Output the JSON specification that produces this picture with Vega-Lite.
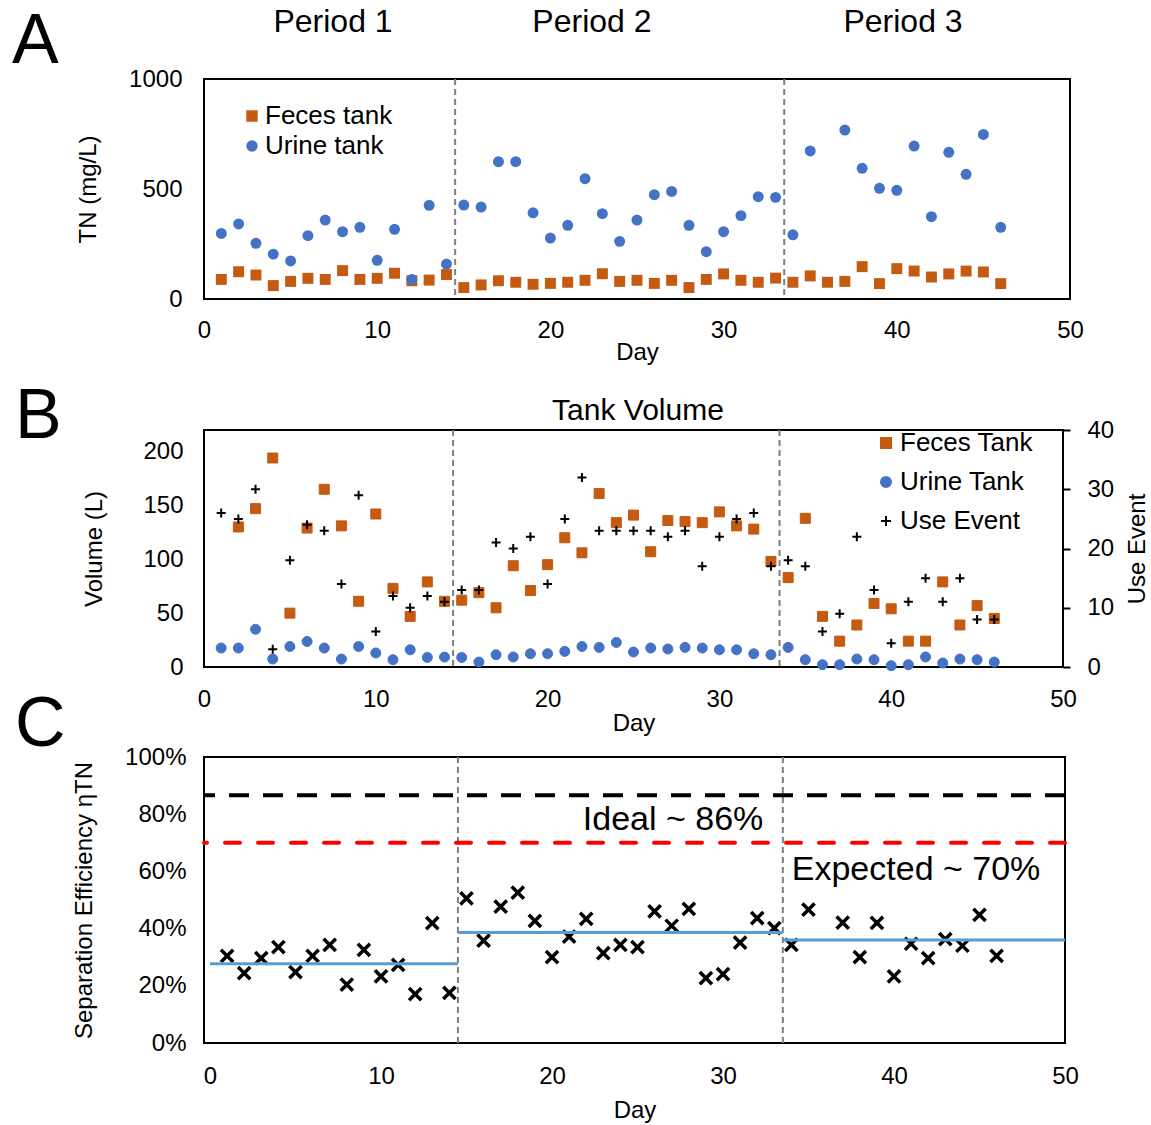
{
  "$schema": "https://vega.github.io/schema/vega-lite/v6.json",
  "autosize": {"type": "none"},
  "padding": {"left": 204, "top": 79, "right": 947, "bottom": 1046},
  "background": "white",
  "bounds": "flush",
  "spacing": 0,
  "resolve": {"scale": {"color": "independent", "shape": "independent", "fill": "independent", "stroke": "independent"}},
  "config": {
    "font": "Liberation Sans",
    "view": {"stroke": "black", "strokeWidth": 2},
    "axis": {"labelFontSize": 24, "titleFontSize": 24, "labelColor": "black", "titleColor": "black", "titleFontWeight": "normal", "grid": false, "ticks": false, "domain": false, "labelFont": "Liberation Sans", "titleFont": "Liberation Sans", "labelFlush": false, "labelOverlap": false},
    "legend": {"labelFont": "Liberation Sans", "labelColor": "black", "labelFontSize": 26, "title": null, "padding": 0},
    "title": {"fontSize": 70, "fontWeight": "normal", "color": "black", "anchor": "start", "frame": "group", "font": "Liberation Sans"},
    "text": {"font": "Liberation Sans", "color": "black"}
  },
  "datasets": {
    "periods": [{"day": 14.5}, {"day": 33.5}],
    "tnA": [
      {"day":1,"series":"Feces tank","tn":89},{"day":2,"series":"Feces tank","tn":124},{"day":3,"series":"Feces tank","tn":109},{"day":4,"series":"Feces tank","tn":61},{"day":5,"series":"Feces tank","tn":80},{"day":6,"series":"Feces tank","tn":94},{"day":7,"series":"Feces tank","tn":89},{"day":8,"series":"Feces tank","tn":129},{"day":9,"series":"Feces tank","tn":89},{"day":10,"series":"Feces tank","tn":94},{"day":11,"series":"Feces tank","tn":117},{"day":12,"series":"Feces tank","tn":83},{"day":13,"series":"Feces tank","tn":86},{"day":14,"series":"Feces tank","tn":111},{"day":15,"series":"Feces tank","tn":52},{"day":16,"series":"Feces tank","tn":64},{"day":17,"series":"Feces tank","tn":83},{"day":18,"series":"Feces tank","tn":76},{"day":19,"series":"Feces tank","tn":67},{"day":20,"series":"Feces tank","tn":71},{"day":21,"series":"Feces tank","tn":76},{"day":22,"series":"Feces tank","tn":85},{"day":23,"series":"Feces tank","tn":115},{"day":24,"series":"Feces tank","tn":80},{"day":25,"series":"Feces tank","tn":85},{"day":26,"series":"Feces tank","tn":71},{"day":27,"series":"Feces tank","tn":85},{"day":28,"series":"Feces tank","tn":52},{"day":29,"series":"Feces tank","tn":89},{"day":30,"series":"Feces tank","tn":114},{"day":31,"series":"Feces tank","tn":85},{"day":32,"series":"Feces tank","tn":76},{"day":33,"series":"Feces tank","tn":95},{"day":34,"series":"Feces tank","tn":76},{"day":35,"series":"Feces tank","tn":105},{"day":36,"series":"Feces tank","tn":76},{"day":37,"series":"Feces tank","tn":80},{"day":38,"series":"Feces tank","tn":147},{"day":39,"series":"Feces tank","tn":70},{"day":40,"series":"Feces tank","tn":138},{"day":41,"series":"Feces tank","tn":127},{"day":42,"series":"Feces tank","tn":100},{"day":43,"series":"Feces tank","tn":114},{"day":44,"series":"Feces tank","tn":127},{"day":45,"series":"Feces tank","tn":123},{"day":46,"series":"Feces tank","tn":70},
      {"day":1,"series":"Urine tank","tn":298},{"day":2,"series":"Urine tank","tn":341},{"day":3,"series":"Urine tank","tn":253},{"day":4,"series":"Urine tank","tn":204},{"day":5,"series":"Urine tank","tn":173},{"day":6,"series":"Urine tank","tn":288},{"day":7,"series":"Urine tank","tn":359},{"day":8,"series":"Urine tank","tn":306},{"day":9,"series":"Urine tank","tn":326},{"day":10,"series":"Urine tank","tn":176},{"day":11,"series":"Urine tank","tn":317},{"day":12,"series":"Urine tank","tn":89},{"day":13,"series":"Urine tank","tn":426},{"day":14,"series":"Urine tank","tn":159},{"day":15,"series":"Urine tank","tn":427},{"day":16,"series":"Urine tank","tn":418},{"day":17,"series":"Urine tank","tn":624},{"day":18,"series":"Urine tank","tn":624},{"day":19,"series":"Urine tank","tn":392},{"day":20,"series":"Urine tank","tn":277},{"day":21,"series":"Urine tank","tn":335},{"day":22,"series":"Urine tank","tn":547},{"day":23,"series":"Urine tank","tn":388},{"day":24,"series":"Urine tank","tn":262},{"day":25,"series":"Urine tank","tn":359},{"day":26,"series":"Urine tank","tn":474},{"day":27,"series":"Urine tank","tn":489},{"day":28,"series":"Urine tank","tn":335},{"day":29,"series":"Urine tank","tn":215},{"day":30,"series":"Urine tank","tn":306},{"day":31,"series":"Urine tank","tn":379},{"day":32,"series":"Urine tank","tn":465},{"day":33,"series":"Urine tank","tn":462},{"day":34,"series":"Urine tank","tn":292},{"day":35,"series":"Urine tank","tn":673},{"day":37,"series":"Urine tank","tn":768},{"day":38,"series":"Urine tank","tn":594},{"day":39,"series":"Urine tank","tn":503},{"day":40,"series":"Urine tank","tn":494},{"day":41,"series":"Urine tank","tn":695},{"day":42,"series":"Urine tank","tn":374},{"day":43,"series":"Urine tank","tn":667},{"day":44,"series":"Urine tank","tn":567},{"day":45,"series":"Urine tank","tn":748},{"day":46,"series":"Urine tank","tn":326}
    ],
    "volB": [
      {"day":2,"series":"Feces Tank","vol":130},{"day":3,"series":"Feces Tank","vol":147},{"day":4,"series":"Feces Tank","vol":194},{"day":5,"series":"Feces Tank","vol":50},{"day":6,"series":"Feces Tank","vol":129},{"day":7,"series":"Feces Tank","vol":165},{"day":8,"series":"Feces Tank","vol":131},{"day":9,"series":"Feces Tank","vol":61},{"day":10,"series":"Feces Tank","vol":142},{"day":11,"series":"Feces Tank","vol":73},{"day":12,"series":"Feces Tank","vol":47},{"day":13,"series":"Feces Tank","vol":79},{"day":14,"series":"Feces Tank","vol":61},{"day":15,"series":"Feces Tank","vol":62},{"day":16,"series":"Feces Tank","vol":69},{"day":17,"series":"Feces Tank","vol":55},{"day":18,"series":"Feces Tank","vol":94},{"day":19,"series":"Feces Tank","vol":71},{"day":20,"series":"Feces Tank","vol":95},{"day":21,"series":"Feces Tank","vol":120},{"day":22,"series":"Feces Tank","vol":106},{"day":23,"series":"Feces Tank","vol":161},{"day":24,"series":"Feces Tank","vol":134},{"day":25,"series":"Feces Tank","vol":141},{"day":26,"series":"Feces Tank","vol":107},{"day":27,"series":"Feces Tank","vol":136},{"day":28,"series":"Feces Tank","vol":135},{"day":29,"series":"Feces Tank","vol":134},{"day":30,"series":"Feces Tank","vol":144},{"day":31,"series":"Feces Tank","vol":131},{"day":32,"series":"Feces Tank","vol":128},{"day":33,"series":"Feces Tank","vol":98},{"day":34,"series":"Feces Tank","vol":83},{"day":35,"series":"Feces Tank","vol":138},{"day":36,"series":"Feces Tank","vol":47},{"day":37,"series":"Feces Tank","vol":24},{"day":38,"series":"Feces Tank","vol":39},{"day":39,"series":"Feces Tank","vol":59},{"day":40,"series":"Feces Tank","vol":54},{"day":41,"series":"Feces Tank","vol":24},{"day":42,"series":"Feces Tank","vol":24},{"day":43,"series":"Feces Tank","vol":79},{"day":44,"series":"Feces Tank","vol":39},{"day":45,"series":"Feces Tank","vol":57},{"day":46,"series":"Feces Tank","vol":45},
      {"day":1,"series":"Urine Tank","vol":17.6},{"day":2,"series":"Urine Tank","vol":17.6},{"day":3,"series":"Urine Tank","vol":35},{"day":4,"series":"Urine Tank","vol":7.4},{"day":5,"series":"Urine Tank","vol":19},{"day":6,"series":"Urine Tank","vol":23.7},{"day":7,"series":"Urine Tank","vol":17.6},{"day":8,"series":"Urine Tank","vol":7.4},{"day":9,"series":"Urine Tank","vol":19},{"day":10,"series":"Urine Tank","vol":13},{"day":11,"series":"Urine Tank","vol":6.8},{"day":12,"series":"Urine Tank","vol":16},{"day":13,"series":"Urine Tank","vol":8.9},{"day":14,"series":"Urine Tank","vol":9.2},{"day":15,"series":"Urine Tank","vol":8.9},{"day":16,"series":"Urine Tank","vol":4.6},{"day":17,"series":"Urine Tank","vol":11.4},{"day":18,"series":"Urine Tank","vol":9.3},{"day":19,"series":"Urine Tank","vol":12.3},{"day":20,"series":"Urine Tank","vol":12.3},{"day":21,"series":"Urine Tank","vol":14.5},{"day":22,"series":"Urine Tank","vol":19},{"day":23,"series":"Urine Tank","vol":18.2},{"day":24,"series":"Urine Tank","vol":22.8},{"day":25,"series":"Urine Tank","vol":13.9},{"day":26,"series":"Urine Tank","vol":17.6},{"day":27,"series":"Urine Tank","vol":16.7},{"day":28,"series":"Urine Tank","vol":18.2},{"day":29,"series":"Urine Tank","vol":17.6},{"day":30,"series":"Urine Tank","vol":16},{"day":31,"series":"Urine Tank","vol":16},{"day":32,"series":"Urine Tank","vol":12.3},{"day":33,"series":"Urine Tank","vol":11.4},{"day":34,"series":"Urine Tank","vol":18.2},{"day":35,"series":"Urine Tank","vol":6.8},{"day":36,"series":"Urine Tank","vol":2.1},{"day":37,"series":"Urine Tank","vol":2.1},{"day":38,"series":"Urine Tank","vol":7.4},{"day":39,"series":"Urine Tank","vol":6.8},{"day":40,"series":"Urine Tank","vol":1.2},{"day":41,"series":"Urine Tank","vol":2.1},{"day":42,"series":"Urine Tank","vol":9.3},{"day":43,"series":"Urine Tank","vol":3.7},{"day":44,"series":"Urine Tank","vol":7.4},{"day":45,"series":"Urine Tank","vol":6.8},{"day":46,"series":"Urine Tank","vol":4.6}
    ],
    "useB": [
      {"day":1,"series":"Use Event","events":26},{"day":2,"series":"Use Event","events":25},{"day":3,"series":"Use Event","events":30},{"day":4,"series":"Use Event","events":3},{"day":5,"series":"Use Event","events":18},{"day":6,"series":"Use Event","events":24},{"day":7,"series":"Use Event","events":23},{"day":8,"series":"Use Event","events":14},{"day":9,"series":"Use Event","events":29},{"day":10,"series":"Use Event","events":6},{"day":11,"series":"Use Event","events":12},{"day":12,"series":"Use Event","events":10},{"day":13,"series":"Use Event","events":12},{"day":14,"series":"Use Event","events":11},{"day":15,"series":"Use Event","events":13},{"day":16,"series":"Use Event","events":13},{"day":17,"series":"Use Event","events":21},{"day":18,"series":"Use Event","events":20},{"day":19,"series":"Use Event","events":22},{"day":20,"series":"Use Event","events":14},{"day":21,"series":"Use Event","events":25},{"day":22,"series":"Use Event","events":32},{"day":23,"series":"Use Event","events":23},{"day":24,"series":"Use Event","events":23},{"day":25,"series":"Use Event","events":23},{"day":26,"series":"Use Event","events":23},{"day":27,"series":"Use Event","events":22},{"day":28,"series":"Use Event","events":23},{"day":29,"series":"Use Event","events":17},{"day":30,"series":"Use Event","events":22},{"day":31,"series":"Use Event","events":25},{"day":32,"series":"Use Event","events":26},{"day":33,"series":"Use Event","events":17},{"day":34,"series":"Use Event","events":18},{"day":35,"series":"Use Event","events":17},{"day":36,"series":"Use Event","events":6},{"day":37,"series":"Use Event","events":9},{"day":38,"series":"Use Event","events":22},{"day":39,"series":"Use Event","events":13},{"day":40,"series":"Use Event","events":4},{"day":41,"series":"Use Event","events":11},{"day":42,"series":"Use Event","events":15},{"day":43,"series":"Use Event","events":11},{"day":44,"series":"Use Event","events":15},{"day":45,"series":"Use Event","events":8},{"day":46,"series":"Use Event","events":8}
    ],
    "sepC": [
      {"day":1,"eff":0.305},{"day":2,"eff":0.244},{"day":3,"eff":0.297},{"day":4,"eff":0.335},{"day":5,"eff":0.248},{"day":6,"eff":0.305},{"day":7,"eff":0.343},{"day":8,"eff":0.204},{"day":9,"eff":0.326},{"day":10,"eff":0.233},{"day":11,"eff":0.273},{"day":12,"eff":0.171},{"day":13,"eff":0.419},{"day":14,"eff":0.175},{"day":15,"eff":0.506},{"day":16,"eff":0.358},{"day":17,"eff":0.477},{"day":18,"eff":0.526},{"day":19,"eff":0.427},{"day":20,"eff":0.300},{"day":21,"eff":0.372},{"day":22,"eff":0.434},{"day":23,"eff":0.314},{"day":24,"eff":0.343},{"day":25,"eff":0.335},{"day":26,"eff":0.460},{"day":27,"eff":0.410},{"day":28,"eff":0.469},{"day":29,"eff":0.227},{"day":30,"eff":0.241},{"day":31,"eff":0.351},{"day":32,"eff":0.437},{"day":33,"eff":0.402},{"day":34,"eff":0.343},{"day":35,"eff":0.466},{"day":37,"eff":0.421},{"day":38,"eff":0.300},{"day":39,"eff":0.420},{"day":40,"eff":0.233},{"day":41,"eff":0.347},{"day":42,"eff":0.297},{"day":43,"eff":0.363},{"day":44,"eff":0.340},{"day":45,"eff":0.448},{"day":46,"eff":0.305}
    ],
    "meansC": [
      {"start":0,"end":14.5,"mean":0.277},{"start":14.5,"end":33.5,"mean":0.386},{"start":33.5,"end":50,"mean":0.36}
    ]
  },
  "vconcat": [
    {
      "width": 866, "height": 220,
      "title": {"text": "A", "dx": -192, "offset": -72},
      "layer": [
        {
          "data": {"name": "tnA"},
          "mark": {"type": "point", "filled": true, "opacity": 1, "size": 120},
          "encoding": {
            "x": {"field": "day", "type": "quantitative", "title": "Day", "scale": {"domain": [0, 50], "nice": false}, "axis": {"values": [0, 10, 20, 30, 40, 50], "labelPadding": 19, "titlePadding": -2}},
            "y": {"field": "tn", "type": "quantitative", "title": "TN (mg/L)", "scale": {"domain": [0, 1000], "nice": false}, "axis": {"values": [0, 500, 1000], "format": "d", "labelPadding": 22, "titlePadding": 28}},
            "color": {"field": "series", "type": "nominal", "scale": {"domain": ["Feces tank", "Urine tank"], "range": ["#C55A11", "#4472C4"]}, "legend": {"orient": "none", "legendX": 35, "legendY": 24, "symbolSize": 130, "rowPadding": 4, "labelOffset": 0}},
            "shape": {"field": "series", "type": "nominal", "scale": {"domain": ["Feces tank", "Urine tank"], "range": ["square", "circle"]}, "legend": {"orient": "none", "legendX": 35, "legendY": 24, "symbolSize": 130, "rowPadding": 4, "labelOffset": 0}}
          }
        },
        {
          "data": {"name": "periods"},
          "mark": {"type": "rule", "color": "#7F7F7F", "strokeWidth": 2, "strokeDash": [6, 4]},
          "encoding": {"x": {"field": "day", "type": "quantitative", "title": "Day"}}
        },
        {"data": {"values": [{}]}, "mark": {"type": "text", "text": "Period 1", "fontSize": 32, "baseline": "middle"}, "encoding": {"x": {"datum": 7.45, "type": "quantitative"}, "y": {"datum": 1259, "type": "quantitative"}}},
        {"data": {"values": [{}]}, "mark": {"type": "text", "text": "Period 2", "fontSize": 32, "baseline": "middle"}, "encoding": {"x": {"datum": 22.4, "type": "quantitative"}, "y": {"datum": 1259, "type": "quantitative"}}},
        {"data": {"values": [{}]}, "mark": {"type": "text", "text": "Period 3", "fontSize": 32, "baseline": "middle"}, "encoding": {"x": {"datum": 40.36, "type": "quantitative"}, "y": {"datum": 1259, "type": "quantitative"}}}
      ]
    },
    {"width": 859, "height": 131, "data": {"values": []}, "mark": "point", "encoding": {}, "view": {"stroke": null}},
    {
      "width": 859, "height": 237,
      "title": {"text": "B", "dx": -189, "offset": -57},
      "layer": [
        {
          "data": {"name": "periods"},
          "mark": {"type": "rule", "color": "#7F7F7F", "strokeWidth": 2, "strokeDash": [6, 4]},
          "encoding": {"x": {"field": "day", "type": "quantitative", "title": "Day", "scale": {"domain": [0, 50], "nice": false}, "axis": {"values": [0, 10, 20, 30, 40, 50], "labelPadding": 20, "titlePadding": 0}}}
        },
        {
          "layer": [
            {
              "data": {"name": "volB"},
              "mark": {"type": "point", "opacity": 1, "size": 100, "strokeWidth": 1},
              "encoding": {
                "x": {"field": "day", "type": "quantitative", "title": "Day"},
                "y": {"field": "vol", "type": "quantitative", "title": "Volume (L)", "scale": {"domain": [0, 220], "nice": false}, "axis": {"orient": "left", "values": [0, 50, 100, 150, 200], "labelPadding": 21, "titlePadding": 36}},
                "fill": {"field": "series", "type": "nominal", "scale": {"domain": ["Feces Tank", "Urine Tank", "Use Event"], "range": ["#C55A11", "#4472C4", "transparent"]}, "legend": {"orient": "none", "legendX": 669, "legendY": 0, "symbolSize": 100, "rowPadding": 13, "labelOffset": 1, "symbolStrokeWidth": 2}},
                "stroke": {"field": "series", "type": "nominal", "scale": {"domain": ["Feces Tank", "Urine Tank", "Use Event"], "range": ["#C55A11", "#4472C4", "black"]}, "legend": {"orient": "none", "legendX": 669, "legendY": 0, "symbolSize": 100, "rowPadding": 13, "labelOffset": 1, "symbolStrokeWidth": 2}},
                "shape": {"field": "series", "type": "nominal", "scale": {"domain": ["Feces Tank", "Urine Tank", "Use Event"], "range": ["square", "circle", "M-1,0H1M0,-1V1"]}, "legend": {"orient": "none", "legendX": 669, "legendY": 0, "symbolSize": 100, "rowPadding": 13, "labelOffset": 1, "symbolStrokeWidth": 2}}
              }
            },
            {"data": {"values": [{}]}, "mark": {"type": "text", "text": "Tank Volume", "fontSize": 30, "baseline": "middle"}, "encoding": {"x": {"datum": 25.26, "type": "quantitative"}, "y": {"datum": 237.6, "type": "quantitative"}}}
          ]
        },
        {
          "data": {"name": "useB"},
          "mark": {"type": "point", "opacity": 1, "size": 81, "strokeWidth": 2},
          "encoding": {
            "x": {"field": "day", "type": "quantitative", "title": "Day"},
            "y": {"field": "events", "type": "quantitative", "title": "Use Event", "scale": {"domain": [0, 40], "nice": false}, "axis": {"orient": "right", "values": [0, 10, 20, 30, 40], "ticks": true, "tickSize": 7, "tickWidth": 2, "tickColor": "black", "labelPadding": 17, "titlePadding": 12, "titleAngle": 270, "titleBaseline": "top"}},
            "fill": {"field": "series", "type": "nominal", "scale": {"domain": ["Feces Tank", "Urine Tank", "Use Event"], "range": ["#C55A11", "#4472C4", "transparent"]}},
            "stroke": {"field": "series", "type": "nominal", "scale": {"domain": ["Feces Tank", "Urine Tank", "Use Event"], "range": ["#C55A11", "#4472C4", "black"]}},
            "shape": {"field": "series", "type": "nominal", "scale": {"domain": ["Feces Tank", "Urine Tank", "Use Event"], "range": ["square", "circle", "M-1,0H1M0,-1V1"]}}
          }
        }
      ],
      "resolve": {"scale": {"y": "independent"}}
    },
    {"width": 859, "height": 90, "data": {"values": []}, "mark": "point", "encoding": {}, "view": {"stroke": null}},
    {
      "width": 861, "height": 286,
      "title": {"text": "C", "dx": -189, "offset": -16},
      "layer": [
        {
          "data": {"name": "sepC"},
          "mark": {"type": "point", "shape": "M-1,-1L1,1M-1,1L1,-1", "filled": false, "stroke": "black", "strokeWidth": 3.5, "size": 150, "opacity": 1},
          "encoding": {
            "x": {"field": "day", "type": "quantitative", "title": "Day", "scale": {"domain": [-0.35, 50], "nice": false}, "axis": {"values": [0, 10, 20, 30, 40, 50], "labelPadding": 21, "titlePadding": 10}},
            "y": {"field": "eff", "type": "quantitative", "title": "Separation Efficiency ηTN", "scale": {"domain": [0, 1], "nice": false}, "axis": {"values": [0, 0.2, 0.4, 0.6, 0.8, 1], "format": ".0%", "labelPadding": 18, "titlePadding": 28}}
          }
        },
        {
          "data": {"name": "periods"},
          "mark": {"type": "rule", "color": "#7F7F7F", "strokeWidth": 2, "strokeDash": [6, 4]},
          "encoding": {"x": {"field": "day", "type": "quantitative", "title": "Day"}}
        },
        {"data": {"values": [{}]}, "mark": {"type": "rule", "color": "black", "strokeWidth": 4, "strokeDash": [20, 14]}, "encoding": {"y": {"datum": 0.866, "type": "quantitative"}}},
        {"data": {"values": [{}]}, "mark": {"type": "rule", "color": "#FF0000", "strokeWidth": 4, "strokeDash": [15, 18], "strokeCap": "round"}, "encoding": {"y": {"datum": 0.70, "type": "quantitative"}}},
        {
          "data": {"name": "meansC"},
          "mark": {"type": "rule", "color": "#5B9BD5", "strokeWidth": 3},
          "encoding": {"x": {"field": "start", "type": "quantitative", "title": "Day"}, "x2": {"field": "end"}, "y": {"field": "mean", "type": "quantitative", "title": "Separation Efficiency ηTN"}}
        },
        {"data": {"values": [{}]}, "mark": {"type": "text", "text": "Ideal ~ 86%", "fontSize": 34, "baseline": "middle"}, "encoding": {"x": {"datum": 27.08, "type": "quantitative"}, "y": {"datum": 0.781, "type": "quantitative"}}},
        {"data": {"values": [{}]}, "mark": {"type": "text", "text": "Expected ~ 70%", "fontSize": 34, "baseline": "middle"}, "encoding": {"x": {"datum": 41.29, "type": "quantitative"}, "y": {"datum": 0.606, "type": "quantitative"}}}
      ]
    }
  ]
}
